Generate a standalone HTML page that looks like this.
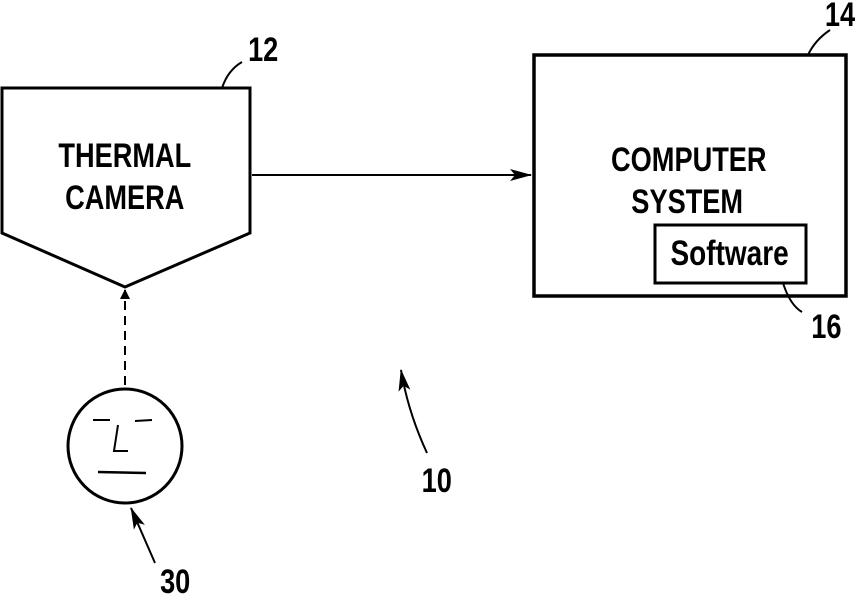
<!DOCTYPE html>
<html><head><style>
html,body{margin:0;padding:0;background:#fff;}
svg{display:block;}
text{font-family:"Liberation Sans",sans-serif;fill:#000;}
</style></head><body>
<svg width="864" height="594" viewBox="0 0 864 594" xmlns="http://www.w3.org/2000/svg">
<defs>
<marker id="ah" markerWidth="10" markerHeight="10" refX="9" refY="5" orient="auto" markerUnits="userSpaceOnUse">
<path d="M0,0 L10,5 L0,10 Z" fill="#000"/>
</marker>
<marker id="ah2" markerWidth="22" markerHeight="12" refX="21" refY="6" orient="auto" markerUnits="userSpaceOnUse">
<path d="M0,0 L22,6 L0,12 L5,6 Z" fill="#000"/>
</marker>
</defs>
<g fill="none" stroke="#000" stroke-width="3">
<polygon points="2,88 250,88 250,233 125,287 2,233"/>
<rect x="534" y="55" width="312" height="241" stroke-width="3.5"/>
<rect x="655" y="225" width="151" height="58"/>
<circle cx="125" cy="446" r="57" stroke-width="3"/>
</g>
<g fill="none" stroke="#000" stroke-width="2">
<line x1="252" y1="175" x2="531" y2="175" marker-end="url(#ah2)"/>
<line x1="125" y1="385" x2="125" y2="290" stroke-dasharray="9,6" marker-end="url(#ah)"/>
<line x1="93" y1="420" x2="110" y2="420"/>
<line x1="135" y1="421" x2="152" y2="420"/>
<polyline points="118,425 114,451 128,451"/>
<line x1="98" y1="472" x2="146" y2="473" stroke-width="2.5"/>
<path d="M155,563 L131,508" marker-end="url(#ah2)"/>
<path d="M427,453 Q408,412 401,370" marker-end="url(#ah2)"/>
<path d="M222,88 Q228,70 242,62"/>
<path d="M808,55 Q815,40 830,30"/>
<path d="M783,283 Q790,305 802,312"/>
</g>
<g font-size="34" font-weight="bold" text-anchor="middle" transform="scale(0.8,1)">
<text x="156" y="167">THERMAL</text>
<text x="156" y="209">CAMERA</text>
<text x="861" y="171">COMPUTER</text>
<text x="859" y="213">SYSTEM</text>
<text x="912" y="265" font-size="35">Software</text>
<text x="329" y="61">12</text>
<text x="1050" y="26">14</text>
<text x="1033" y="338">16</text>
<text x="546" y="492">10</text>
<text x="219" y="593">30</text>
</g>
</svg>
</body></html>
